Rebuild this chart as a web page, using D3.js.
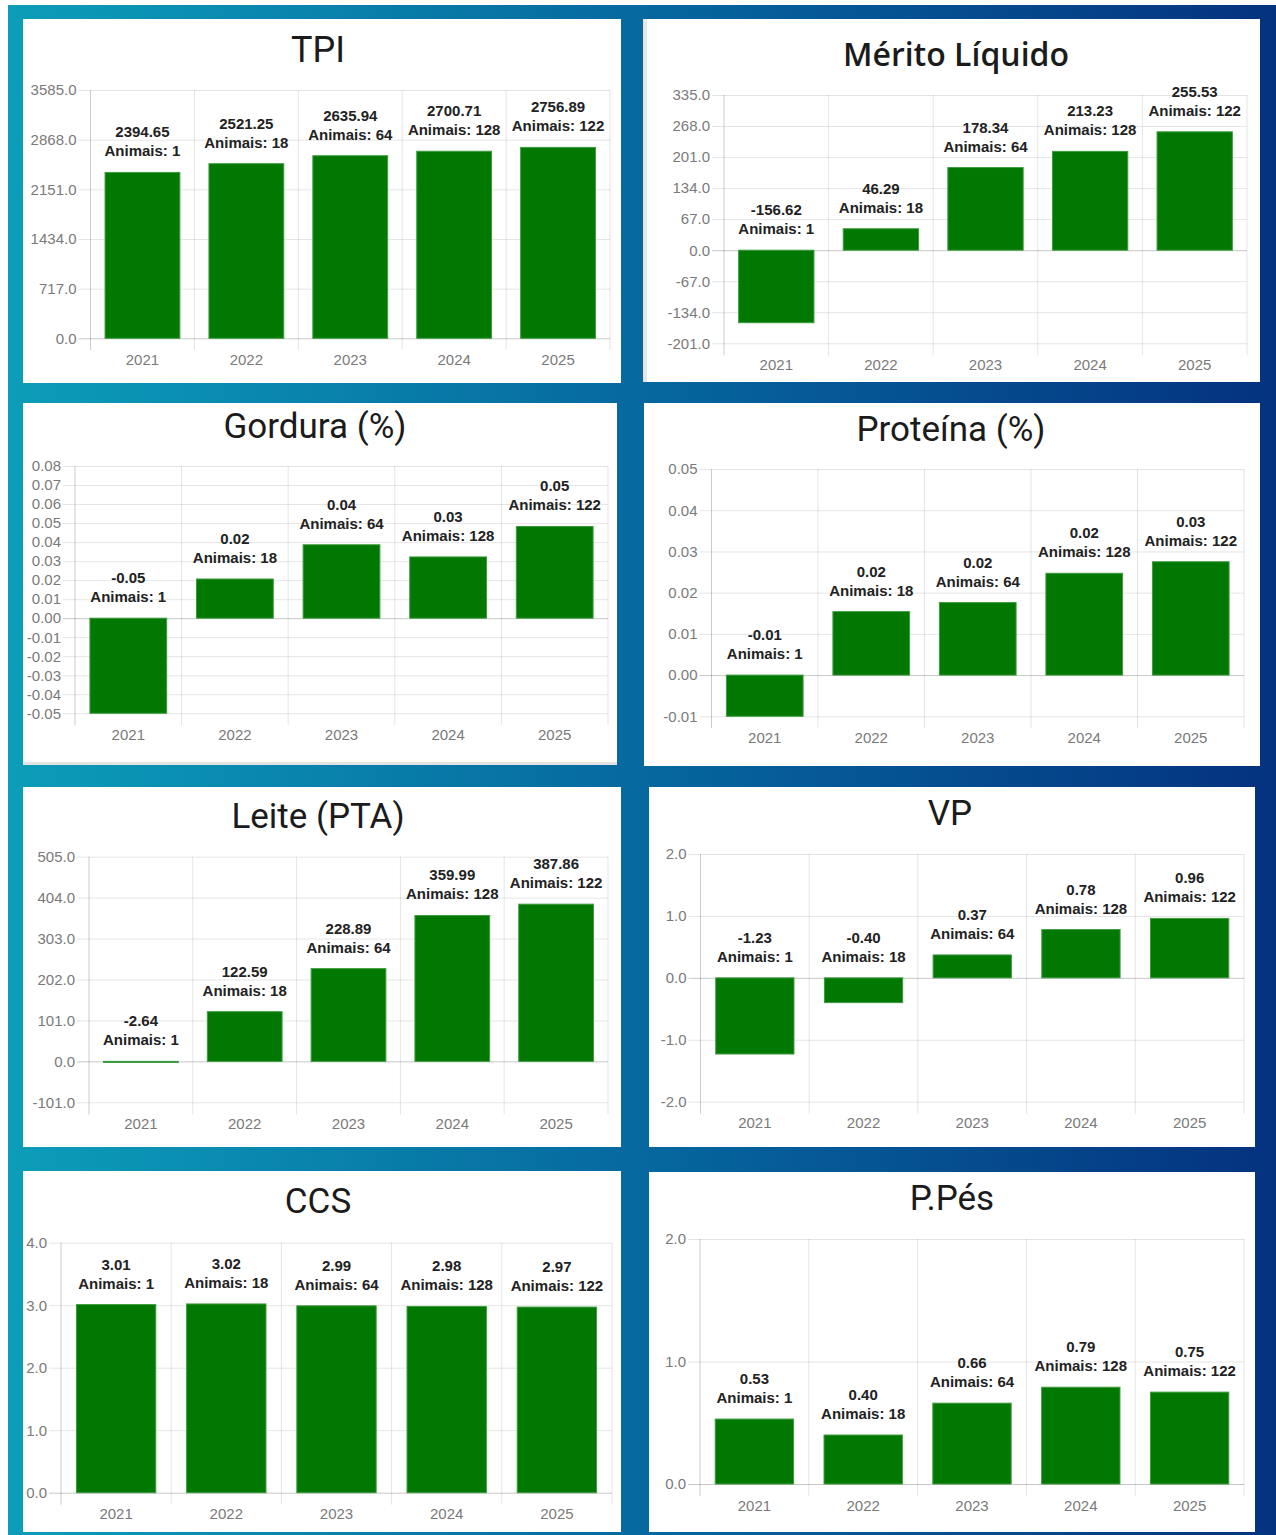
<!DOCTYPE html>
<html>
<head>
<meta charset="utf-8">
<script src="https://cdn.jsdelivr.net/npm/d3@7"></script>
<style>
  html, body { margin: 0; padding: 0; background: #ffffff; }
  svg { display: block; }
</style>
</head>
<body>
<svg id="board" width="1276" height="1535"></svg>
<script>
// ---- data ----
const years = ["2021", "2022", "2023", "2024", "2025"];
const animais = [1, 18, 64, 128, 122];

const tpiValues      = [2394.65, 2521.25, 2635.94, 2700.71, 2756.89];
const meritoValues   = [-156.62, 46.29, 178.34, 213.23, 255.53];
const gorduraValues  = [-0.05, 0.0206, 0.0386, 0.0322, 0.0482];
const proteinaValues = [-0.01, 0.0154, 0.0176, 0.0247, 0.0275];
const leiteValues    = [-2.64, 122.59, 228.89, 359.99, 387.86];
const vpValues       = [-1.23, -0.40, 0.37, 0.78, 0.96];
const ccsValues      = [3.01, 3.02, 2.99, 2.98, 2.97];
const pesValues      = [0.53, 0.40, 0.66, 0.79, 0.75];

const tpiTicks      = [0, 717, 1434, 2151, 2868, 3585];
const meritoTicks   = [-201, -134, -67, 0, 67, 134, 201, 268, 335];
const gorduraTicks  = [-0.05, -0.04, -0.03, -0.02, -0.01, 0, 0.01, 0.02, 0.03, 0.04, 0.05, 0.06, 0.07, 0.08];
const proteinaTicks = [-0.01, 0, 0.01, 0.02, 0.03, 0.04, 0.05];
const leiteTicks    = [-101, 0, 101, 202, 303, 404, 505];
const vpTicks       = [-2, -1, 0, 1, 2];
const ccsTicks      = [0, 1, 2, 3, 4];
const pesTicks      = [0, 1, 2];

const titles = ["TPI", "Mérito Líquido", "Gordura (%)", "Proteína (%)", "Leite (PTA)", "VP", "CCS", "P.Pés"];

// ---- chart definitions (data + tick decimals) ----
const charts = [
  { title: titles[0], values: tpiValues,      ticks: tpiTicks,      tickDec: 1 },
  { title: titles[1], values: meritoValues,   ticks: meritoTicks,   tickDec: 1 },
  { title: titles[2], values: gorduraValues,  ticks: gorduraTicks,  tickDec: 2 },
  { title: titles[3], values: proteinaValues, ticks: proteinaTicks, tickDec: 2 },
  { title: titles[4], values: leiteValues,    ticks: leiteTicks,    tickDec: 1 },
  { title: titles[5], values: vpValues,       ticks: vpTicks,       tickDec: 1 },
  { title: titles[6], values: ccsValues,      ticks: ccsTicks,      tickDec: 1 },
  { title: titles[7], values: pesValues,      ticks: pesTicks,      tickDec: 1 }
];

// ---- layout: card box [x0,y0,x1,y1], plot [left,right,top,bottom], title placement, card edge shading ----
const layout = [
  { box: [23, 19, 621, 383],    plot: [90.5, 610, 90, 338.3],     tx: 318, ty: 62,   tfont: "Roboto", tsize: 36, tweight: 400, edge: null },
  { box: [643, 19, 1260, 382],  plot: [724, 1247, 95, 343.3],     tx: 956, ty: 66,   tfont: "Open Sans", tsize: 32, tweight: 600, edge: "left" },
  { box: [23, 403, 617, 765],   plot: [75, 608, 466, 713.3],      tx: 315, ty: 438,  tfont: "Roboto", tsize: 35, tweight: 400, edge: "bottom" },
  { box: [644, 403, 1260, 766], plot: [711.5, 1244, 469, 716.3],  tx: 951, ty: 441,  tfont: "Roboto", tsize: 35, tweight: 400, edge: null },
  { box: [23, 787, 621, 1147],  plot: [89, 608, 856.7, 1102.3],   tx: 318, ty: 828,  tfont: "Roboto", tsize: 35, tweight: 400, edge: null },
  { box: [649, 787, 1255, 1147],plot: [700.5, 1244, 854, 1101.7], tx: 950, ty: 825,  tfont: "Roboto", tsize: 35, tweight: 400, edge: null },
  { box: [23, 1171, 621, 1532], plot: [61, 612, 1242.7, 1492.7],  tx: 318, ty: 1213, tfont: "Roboto", tsize: 35, tweight: 400, edge: null },
  { box: [649, 1172, 1255, 1532], plot: [700, 1244, 1239, 1484],  tx: 952, ty: 1210, tfont: "Roboto", tsize: 35, tweight: 400, edge: null }
];

const svg = d3.select("#board");

// backdrop gradient
const defs = svg.append("defs");
const grad = defs.append("linearGradient")
  .attr("id", "backdrop")
  .attr("x1", "0%").attr("y1", "0%").attr("x2", "100%").attr("y2", "0%");
grad.append("stop").attr("offset", "0%").attr("stop-color", "#0c9db9");
grad.append("stop").attr("offset", "50%").attr("stop-color", "#06689f");
grad.append("stop").attr("offset", "100%").attr("stop-color", "#04327f");

svg.append("rect")
  .attr("x", 8).attr("y", 5)
  .attr("width", 1268).attr("height", 1530)
  .attr("fill", "url(#backdrop)");

const BAR_FILL = "#017801";
const BAR_EDGE = "#3f9b3f";
const GRID = "rgba(0,0,0,0.10)";
const ZERO = "rgba(0,0,0,0.22)";
const TICK_COLOR = "#7a7a7a";
const LABEL_FONT = "'Liberation Sans', Arial, sans-serif";

charts.forEach((c, i) => {
  const L = layout[i];
  const [bx0, by0, bx1, by1] = L.box;
  const [left, right, top, bottom] = L.plot;
  const w = right - left;

  const card = svg.append("g").attr("class", "card");
  card.append("rect")
    .attr("x", bx0).attr("y", by0)
    .attr("width", bx1 - bx0).attr("height", by1 - by0)
    .attr("fill", "#ffffff");

  // faint grey rim on cards that carry one
  if (L.edge === "left") {
    card.append("rect")
      .attr("x", bx0).attr("y", by0)
      .attr("width", 4).attr("height", by1 - by0)
      .attr("fill", "#e6e6e6");
  } else if (L.edge === "bottom") {
    card.append("rect")
      .attr("x", bx0).attr("y", by1 - 3)
      .attr("width", bx1 - bx0).attr("height", 3)
      .attr("fill", "#e3e3e3");
  }

  // title
  card.append("text")
    .attr("x", L.tx).attr("y", L.ty)
    .attr("text-anchor", "middle")
    .style("font-family", L.tfont)
    .style("font-size", L.tsize + "px")
    .style("font-weight", L.tweight)
    .attr("fill", "#1b1b1b")
    .text(c.title);

  const y = d3.scaleLinear()
    .domain([d3.min(c.ticks), d3.max(c.ticks)])
    .range([bottom, top]);

  const x = d3.scaleBand()
    .domain(years)
    .range([left, right])
    .paddingInner(0.28)
    .paddingOuter(0.14);

  // vertical grid lines at category boundaries
  const bounds = years.map(d => x(d) - x.step() * 0.14).concat([right]);
  card.append("g").selectAll("line")
    .data(bounds)
    .join("line")
    .attr("x1", d => d).attr("x2", d => d)
    .attr("y1", top).attr("y2", bottom + 12)
    .attr("stroke", (d, k) => k === 0 ? "rgba(0,0,0,0.20)" : GRID)
    .attr("stroke-width", 1);

  // horizontal grid + y tick labels
  const yAxis = d3.axisLeft(y)
    .tickValues(c.ticks)
    .tickSize(-w)
    .tickPadding(14)
    .tickFormat(v => v.toFixed(c.tickDec));

  const gy = card.append("g")
    .attr("transform", `translate(${left},0)`)
    .call(yAxis);
  gy.select(".domain").remove();
  gy.selectAll(".tick line")
    .attr("x1", -12)
    .attr("stroke", d => (Math.abs(d) < 1e-12 ? ZERO : GRID));
  gy.selectAll(".tick text")
    .style("font-family", LABEL_FONT)
    .style("font-size", "15px")
    .attr("fill", TICK_COLOR);

  // year labels
  const xAxis = d3.axisBottom(x).tickSize(0).tickPadding(16);
  const gx = card.append("g")
    .attr("transform", `translate(0,${bottom})`)
    .call(xAxis);
  gx.select(".domain").remove();
  gx.selectAll(".tick text")
    .style("font-family", LABEL_FONT)
    .style("font-size", "15px")
    .attr("fill", TICK_COLOR);

  const rows = years.map((yr, k) => ({ year: yr, value: c.values[k], n: animais[k] }));

  // bars
  card.append("g").selectAll("rect")
    .data(rows)
    .join("rect")
    .attr("x", d => x(d.year))
    .attr("width", x.bandwidth())
    .attr("y", d => y(Math.max(0, d.value)))
    .attr("height", d => Math.max(1, Math.abs(y(d.value) - y(0))))
    .attr("fill", BAR_FILL)
    .attr("stroke", BAR_EDGE)
    .attr("stroke-width", 1);

  // value labels above each bar
  const lbl = card.append("g").selectAll("text")
    .data(rows)
    .join("text")
    .attr("text-anchor", "middle")
    .style("font-family", LABEL_FONT)
    .style("font-size", "15px")
    .style("font-weight", "bold")
    .attr("fill", "#222222");
  lbl.append("tspan")
    .attr("x", d => x(d.year) + x.bandwidth() / 2)
    .attr("y", d => y(Math.max(0, d.value)) - 35)
    .text(d => d.value.toFixed(2));
  lbl.append("tspan")
    .attr("x", d => x(d.year) + x.bandwidth() / 2)
    .attr("y", d => y(Math.max(0, d.value)) - 16)
    .text(d => "Animais: " + d.n);
});
</script>
</body>
</html>
